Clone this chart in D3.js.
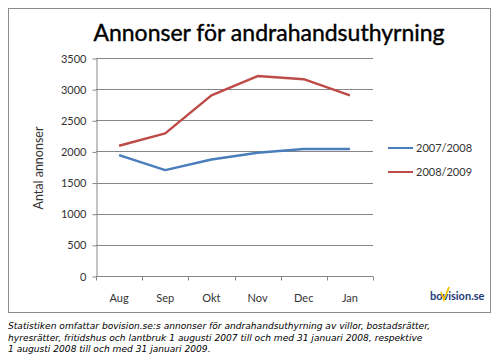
<!DOCTYPE html>
<meta charset="utf-8">
<style>
body { margin: 0; background: #fff; }
.tick-label { fill: #333; font: 11px Lato, "Open Sans", sans-serif; }
.title { fill: #000; font: 23px Lato, sans-serif; font-weight: normal; }
.note { fill: #000; font: italic 9.1px "DejaVu Sans", Verdana, sans-serif; }
</style>
<body>
<div id="chart"></div>
<script src="https://cdn.jsdelivr.net/npm/d3@7"></script>
<script>

var months = ["Aug", "Sep", "Okt", "Nov", "Dec", "Jan"];
var yTicks = [0, 500, 1000, 1500, 2000, 2500, 3000, 3500];
var season0708 = [1940, 1700, 1870, 1980, 2040, 2040];
var season0809 = [2090, 2290, 2900, 3210, 3160, 2900];
var seriesNames = ["2007/2008", "2008/2009"];
var seriesColors = ["#4a7ebb", "#be4b48"];
var noteLines = [
  "Statistiken omfattar bovision.se:s annonser för andrahandsuthyrning av villor, bostadsrätter,",
  "hyresrätter, fritidshus och lantbruk 1 augusti 2007 till och med 31 januari 2008, respektive",
  "1 augusti 2008 till och med 31 januari 2009."
];

var width = 500, height = 362;
var plot = { left: 96, right: 373, top: 58, bottom: 276 };

var svg = d3.select("#chart").append("svg")
  .attr("width", width)
  .attr("height", height);

// outer frame
svg.append("rect")
  .attr("x", 8.5).attr("y", 8.5)
  .attr("width", 482).attr("height", 304)
  .attr("fill", "#fff")
  .attr("stroke", "#8c8c8c");

svg.append("text")
  .attr("class", "title")
  .attr("x", 269).attr("y", 41)
  .attr("text-anchor", "middle")
  .style("stroke", "#000")
  .style("stroke-width", 0.4)
  .text("Annonser för andrahandsuthyrning");

var x = d3.scaleBand()
  .domain(months)
  .range([plot.left, plot.right]);

var y = d3.scaleLinear()
  .domain([0, 3500])
  .range([plot.bottom, plot.top]);

// gridlines
svg.append("g")
  .selectAll("line")
  .data(yTicks.slice(1))
  .enter().append("line")
  .attr("x1", plot.left).attr("x2", plot.right)
  .attr("y1", function(d) { return Math.round(y(d)) + 0.5; })
  .attr("y2", function(d) { return Math.round(y(d)) + 0.5; })
  .attr("stroke", "#868686");

// y axis
var yAxis = svg.append("g")
  .attr("transform", "translate(" + (plot.left + 0.5) + ",0.5)")
  .call(d3.axisLeft(y).tickValues(yTicks).tickFormat(d3.format("d"))
    .tickSize(4).tickPadding(6).tickSizeOuter(0));
yAxis.select(".domain").attr("stroke", "#868686");
yAxis.selectAll(".tick line").attr("stroke", "#868686");
yAxis.selectAll(".tick text").attr("class", "tick-label").attr("fill", "#333").attr("font-size", null).attr("font-family", null);

// x axis with ticks at category boundaries
var xAxis = svg.append("g")
  .attr("transform", "translate(0," + (Math.round(y(0)) + 0.5) + ")");
xAxis.append("line")
  .attr("x1", plot.left).attr("x2", plot.right)
  .attr("stroke", "#868686");
xAxis.selectAll("line.tk")
  .data(months.concat(["end"]))
  .enter().append("line")
  .attr("class", "tk")
  .attr("x1", function(d, i) { return Math.round(plot.left + i * x.bandwidth()) + 0.5; })
  .attr("x2", function(d, i) { return Math.round(plot.left + i * x.bandwidth()) + 0.5; })
  .attr("y1", 0).attr("y2", 4)
  .attr("stroke", "#868686");
xAxis.selectAll("text")
  .data(months)
  .enter().append("text")
  .attr("class", "tick-label")
  .attr("x", function(d) { return x(d) + x.bandwidth() / 2; })
  .attr("y", 25)
  .attr("text-anchor", "middle")
  .text(function(d) { return d; });

svg.append("text")
  .attr("class", "tick-label")
  .attr("transform", "translate(43,168) rotate(-90)")
  .attr("text-anchor", "middle")
  .style("font-size", "12.5px")
  .text("Antal annonser");

var line = d3.line()
  .x(function(d, i) { return x(months[i]) + x.bandwidth() / 2; })
  .y(function(d) { return y(d); });

[season0708, season0809].forEach(function(s, i) {
  svg.append("path")
    .datum(s)
    .attr("d", line)
    .attr("fill", "none")
    .attr("stroke", seriesColors[i])
    .attr("stroke-width", 2.5)
    .attr("stroke-linejoin", "round");
});

// legend
var legend = svg.selectAll("g.legend")
  .data(seriesNames)
  .enter().append("g")
  .attr("class", "legend")
  .attr("transform", function(d, i) { return "translate(388," + (148 + i * 24) + ")"; });
legend.append("line")
  .attr("x1", 0).attr("x2", 25)
  .attr("stroke", function(d, i) { return seriesColors[i]; })
  .attr("stroke-width", 2);
legend.append("text")
  .attr("class", "tick-label")
  .attr("x", 28).attr("y", 4)
  .text(function(d) { return d; });

// logo
svg.append("text")
  .attr("x", 430).attr("y", 300)
  .style("font", "bold 11px Lato, sans-serif")
  .attr("fill", "#1f3a78")
  .text("bovision.se");
svg.append("path")
  .attr("d", "M441,292 L444,300 L449,287")
  .attr("fill", "none")
  .attr("stroke", "#f2c400")
  .attr("stroke-width", 1.8);

// note below the frame
svg.append("g")
  .selectAll("text")
  .data(noteLines)
  .enter().append("text")
  .attr("class", "note")
  .attr("x", 8)
  .attr("y", function(d, i) { return 329 + i * 11.5; })
  .text(function(d) { return d; });

</script>
</body>
